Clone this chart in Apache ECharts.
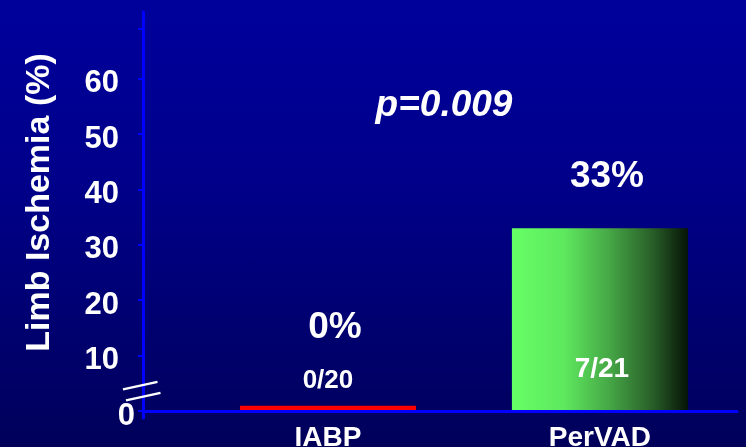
<!DOCTYPE html>
<html>
<head>
<meta charset="utf-8">
<script src="https://cdn.jsdelivr.net/npm/echarts@6/dist/echarts.min.js"></script>
<style>
  html, body { margin: 0; padding: 0; }
  #chart {
    width: 746px; height: 447px;
    background: linear-gradient(to bottom, #00009c 0%, #00008a 40%, #00005a 100%);
  }
</style>
</head>
<body>
<div id="chart"></div>
<script>
// Limb ischemia by support device
const categories = ['IABP', 'PerVAD'];
const ischemiaPct = [0, 33];
const eventCounts = ['0/20', '7/21'];
const yTickValues = [0, 10, 20, 30, 40, 50, 60, 69];
const yTickLabels = [10, 20, 30, 40, 50, 60];
const yZeroLabel = [0];
const pValueText = 'p=0.009';

const FONT = '"Liberation Sans", Arial, sans-serif';
const AXIS_BLUE = '#0000ff';

const greenFade = {
  type: 'linear', x: 0, y: 0, x2: 1, y2: 0,
  colorStops: [
    { offset: 0, color: '#66ff66' },
    { offset: 0.3, color: '#5ee85e' },
    { offset: 0.55, color: '#46a846' },
    { offset: 0.8, color: '#285e28' },
    { offset: 1, color: '#061406' }
  ]
};
const barColors = ['#ff0000', greenFade];

const chart = echarts.init(document.getElementById('chart'), null, { renderer: 'canvas' });

const option = {
  animation: false,
  backgroundColor: 'transparent',
  textStyle: { fontFamily: FONT },
  grid: { left: 143, right: 9, top: 12, bottom: 29, containLabel: false, outerBoundsMode: 'none' },
  xAxis: {
    type: 'value',
    min: -0.68,
    max: 1.504,
    z: 5,
    axisLine: { show: true, onZero: true, lineStyle: { color: AXIS_BLUE, width: 3 } },
    axisTick: { show: false },
    splitLine: { show: false },
    axisLabel: {
      customValues: [0, 1],
      formatter: v => categories[Math.round(v)],
      color: '#ffffff', fontSize: 28, fontWeight: 'bold', fontFamily: FONT, margin: 6
    }
  },
  yAxis: [
    {
      type: 'value',
      position: 'left',
      min: -1.3,
      max: 72.05,
      z: 5,
      axisLine: { show: true, onZero: false, lineStyle: { color: AXIS_BLUE, width: 3 } },
      axisTick: { show: true, customValues: yTickValues, length: 5, lineStyle: { color: AXIS_BLUE, width: 2 } },
      splitLine: { show: false },
      axisLabel: {
        customValues: yTickLabels,
        color: '#ffffff', fontSize: 31, fontWeight: 'bold', fontFamily: FONT,
        margin: 24, verticalAlign: 'top', lineHeight: 10
      },
      name: 'Limb Ischemia (%)',
      nameLocation: 'middle',
      nameGap: 86,
      nameTextStyle: {
        color: '#ffffff', fontSize: 34, fontWeight: 'bold', fontFamily: FONT,
        padding: [0, 0, 0, 25]
      }
    },
    {
      type: 'value',
      position: 'left',
      offset: 0,
      min: -1.3,
      max: 72.05,
      axisLine: { show: false, onZero: false },
      axisTick: { show: false },
      splitLine: { show: false },
      axisLabel: {
        customValues: yZeroLabel,
        color: '#ffffff', fontSize: 31, fontWeight: 'bold', fontFamily: FONT,
        margin: 8, verticalAlign: 'top', lineHeight: 12
      }
    }
  ],
  series: [
    {
      name: 'Limb ischemia',
      type: 'bar',
      barWidth: 176,
      barGap: '-100%',
      barMinHeight: 5,
      data: ischemiaPct.map((v, i) => ({
        value: [i, v],
        itemStyle: { color: barColors[i] },
        label: { distance: i === 0 ? 60 : 33 }
      })),
      label: {
        show: true,
        position: 'top',
        formatter: p => p.value[1] + '%',
        color: '#ffffff', fontSize: 37, fontWeight: 'bold', fontFamily: FONT,
        offset: [7, 0]
      }
    },
    {
      name: 'Events',
      type: 'bar',
      barWidth: 176,
      barGap: '-100%',
      barMinHeight: 5,
      z: 3,
      itemStyle: { color: 'rgba(0,0,0,0)' },
      data: ischemiaPct.map((v, i) => ({
        value: [i, v],
        label: i === 0
          ? { position: 'top', distance: 12, fontSize: 26, offset: [0, 0] }
          : { position: 'insideBottom', distance: 28, fontSize: 28, offset: [2, 0] }
      })),
      label: {
        show: true,
        formatter: p => eventCounts[p.dataIndex],
        color: '#ffffff', fontWeight: 'bold', fontFamily: FONT
      }
    }
  ],
  graphic: [
    {
      id: 'pvalue',
      type: 'text',
      x: 444, y: 106,
      style: {
        text: pValueText,
        fill: '#ffffff',
        fontSize: 37, fontWeight: 'bold', fontStyle: 'italic', fontFamily: FONT,
        align: 'center', verticalAlign: 'middle'
      }
    }
  ]
};

chart.setOption(option);

// Axis-break marks placed just above the origin, on the y axis line
const axisX = chart.convertToPixel({ xAxisIndex: 0 }, -0.68);
const breakY = chart.convertToPixel({ yAxisIndex: 0 }, 3.6);
const breakStyle = { stroke: '#ffffff', lineWidth: 2.5 };
chart.setOption({
  graphic: [
    {
      id: 'break1', type: 'line', z: 10,
      shape: { x1: axisX - 20, y1: breakY - 1.5, x2: axisX + 14.5, y2: breakY - 9 },
      style: breakStyle
    },
    {
      id: 'break2', type: 'line', z: 10,
      shape: { x1: axisX - 17, y1: breakY + 9.5, x2: axisX + 17.5, y2: breakY + 2 },
      style: breakStyle
    }
  ]
});
</script>
</body>
</html>
